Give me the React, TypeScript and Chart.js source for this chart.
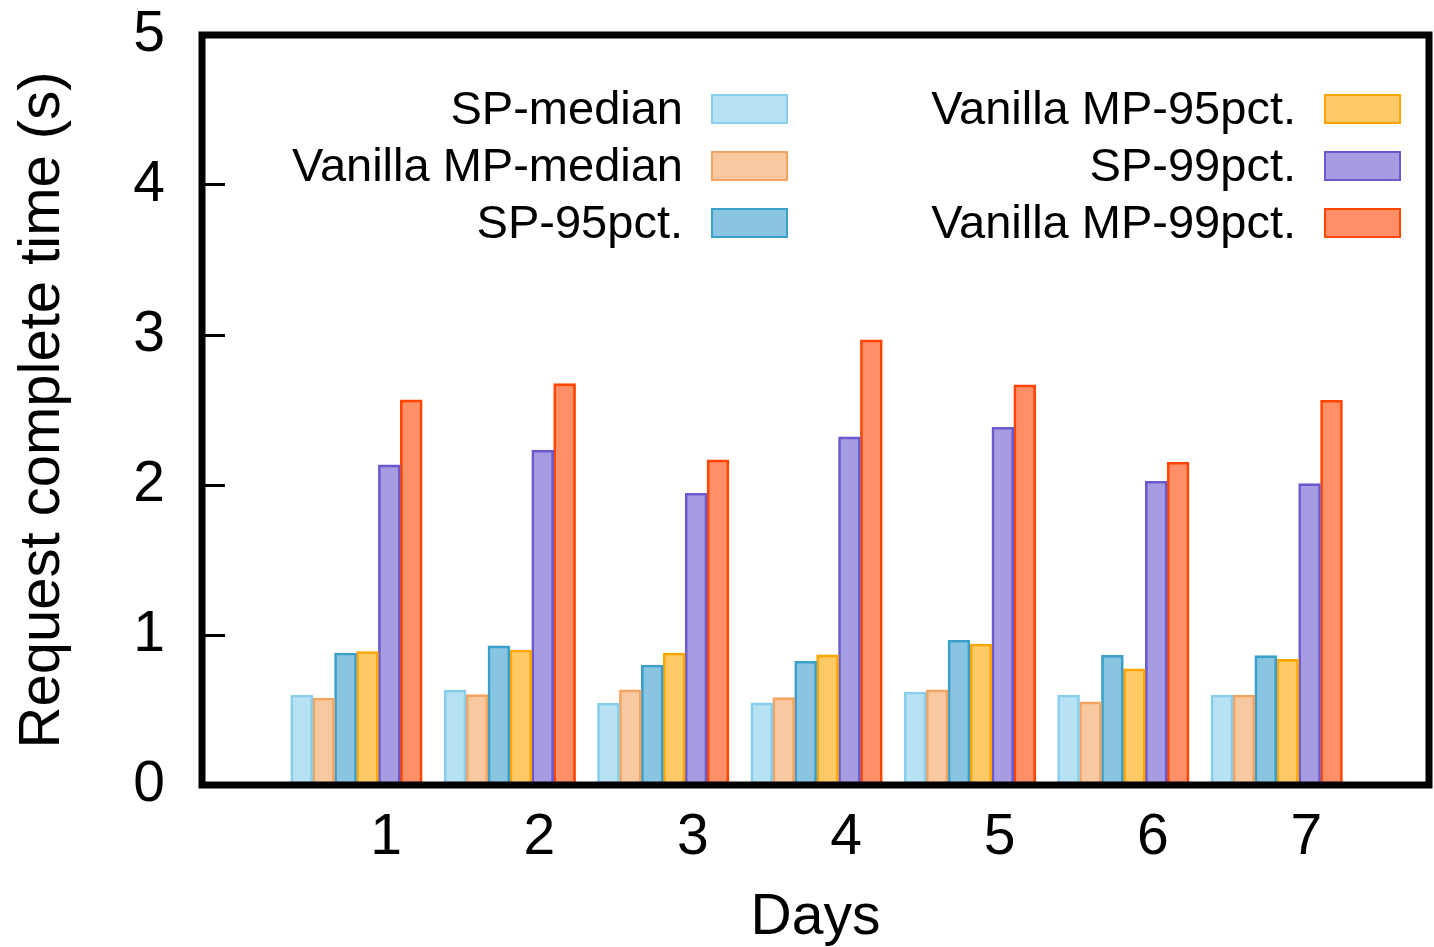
import React, { useEffect, useRef } from 'react';
import { Chart, registerables } from 'chart.js';

Chart.register(...registerables);

// ---- data ----
const DAYS = [1, 2, 3, 4, 5, 6, 7];
const Y_TICKS = [0, 1, 2, 3, 4, 5];
const SERIES_LABELS = [
  'SP-median',
  'Vanilla MP-median',
  'SP-95pct.',
  'Vanilla MP-95pct.',
  'SP-99pct.',
  'Vanilla MP-99pct.',
];
const SP_MEDIAN = [0.6, 0.632, 0.545, 0.547, 0.62, 0.6, 0.6];
const VMP_MEDIAN = [0.58, 0.603, 0.634, 0.583, 0.634, 0.554, 0.6];
const SP_95 = [0.88, 0.927, 0.8, 0.825, 0.965, 0.865, 0.863];
const VMP_95 = [0.89, 0.9, 0.88, 0.867, 0.94, 0.774, 0.838];
const SP_99 = [2.134, 2.232, 1.945, 2.321, 2.385, 2.025, 2.009];
const VMP_99 = [2.567, 2.676, 2.167, 2.967, 2.667, 2.152, 2.565];
const SERIES_VALUES = [SP_MEDIAN, VMP_MEDIAN, SP_95, VMP_95, SP_99, VMP_99];
const SERIES_COLORS = [
  [135, 206, 235],
  [244, 164, 96],
  [58, 159, 203],
  [255, 165, 0],
  [106, 90, 205],
  [255, 69, 0],
];

// histogram cluster geometry (in day units)
const CLUSTER_SHIFT = -0.55;
const SLOT = 1 / 7;

const FONT = '"Liberation Sans", Arial, Helvetica, sans-serif';

const framePlugin = {
  id: 'frame',
  afterDatasetsDraw(chart: any) {
    const { ctx, chartArea } = chart;
    ctx.save();
    ctx.strokeStyle = '#000';
    ctx.lineWidth = 7;
    ctx.strokeRect(chartArea.left, chartArea.top, chartArea.right - chartArea.left, chartArea.bottom - chartArea.top);
    ctx.restore();
  },
};

const LEGEND_BOX_X = [712, 1325];
const LEGEND_ROW_Y = [109, 166, 223];
const LEGEND_BOX_W = 75;
const LEGEND_BOX_H = 28;
const LEGEND_GAP = 29;

const columnLegendPlugin = {
  id: 'columnLegend',
  afterDraw(chart: any) {
    const { ctx } = chart;
    const ds = chart.data.datasets;
    ctx.save();
    ctx.font = `47px ${FONT}`;
    ctx.textAlign = 'right';
    ctx.textBaseline = 'middle';
    ds.forEach((d: any, i: number) => {
      const col = Math.floor(i / 3);
      const row = i % 3;
      const bx = LEGEND_BOX_X[col];
      const cy = LEGEND_ROW_Y[row];
      ctx.fillStyle = d.backgroundColor;
      ctx.fillRect(bx, cy - LEGEND_BOX_H / 2, LEGEND_BOX_W, LEGEND_BOX_H);
      ctx.strokeStyle = d.borderColor;
      ctx.lineWidth = 2;
      ctx.strokeRect(bx, cy - LEGEND_BOX_H / 2, LEGEND_BOX_W, LEGEND_BOX_H);
      ctx.fillStyle = '#000';
      ctx.fillText(d.label, bx - LEGEND_GAP, cy + 2);
    });
    ctx.restore();
  },
};

export default function App() {
  const ref = useRef<HTMLCanvasElement | null>(null);

  useEffect(() => {
    if (!ref.current) return;
    const datasets = SERIES_LABELS.map((label, j) => {
      const [r, g, b] = SERIES_COLORS[j];
      return {
        label,
        data: DAYS.map((d, k) => ({ x: d + CLUSTER_SHIFT + j * SLOT, y: SERIES_VALUES[j][k] })),
        backgroundColor: `rgba(${r},${g},${b},0.6)`,
        borderColor: `rgb(${r},${g},${b})`,
        borderWidth: 2,
        grouped: false,
        barPercentage: 1,
        categoryPercentage: 1,
      };
    });
    const chart = new Chart(ref.current, {
      type: 'bar',
      data: { datasets },
      plugins: [framePlugin, columnLegendPlugin],
      options: {
        animation: false,
        responsive: false,
        devicePixelRatio: 1,
        layout: { padding: { top: 35, right: 5, left: 0, bottom: 0 } },
        plugins: { legend: { display: false }, tooltip: { enabled: false } },
        scales: {
          x: {
            type: 'linear',
            offset: false,
            min: -0.2,
            max: 7.8,
            afterBuildTicks: (scale: any) => {
              scale.ticks = DAYS.map((v) => ({ value: v }));
            },
            afterFit: (scale: any) => {
              scale.height = 162;
              scale.paddingLeft = 0;
              scale.paddingRight = 0;
            },
            grid: { display: false, drawTicks: false },
            border: { display: false },
            ticks: {
              color: '#000',
              padding: 25,
              font: { family: FONT, size: 57, lineHeight: 1 },
              callback: (v: any) => String(v),
            },
            title: {
              display: true,
              text: 'Days',
              color: '#000',
              font: { family: FONT, size: 57, lineHeight: 1 },
              padding: { top: 0, bottom: 0 },
            },
          },
          y: {
            type: 'linear',
            min: 0,
            max: 5,
            afterBuildTicks: (scale: any) => {
              scale.ticks = Y_TICKS.map((v) => ({ value: v }));
            },
            afterFit: (scale: any) => {
              scale.width = 202;
              scale.paddingTop = 0;
              scale.paddingBottom = 0;
            },
            grid: {
              drawOnChartArea: false,
              drawTicks: true,
              tickLength: -23,
              color: '#000',
              lineWidth: 3,
            },
            border: { display: false },
            ticks: {
              color: '#000',
              padding: 60,
              font: { family: FONT, size: 57, lineHeight: 1 },
            },
            title: {
              display: true,
              text: 'Request complete time (s)',
              color: '#000',
              font: { family: FONT, size: 58, lineHeight: 1 },
              padding: { top: 14, bottom: 0 },
            },
          },
        },
      },
    } as any);
    return () => chart.destroy();
  }, []);

  return (
    <div style={{ position: 'absolute', left: 0, top: 0, width: 1434, height: 947, background: '#fff' }}>
      <canvas ref={ref} width={1434} height={947} style={{ display: 'block' }} />
    </div>
  );
}
